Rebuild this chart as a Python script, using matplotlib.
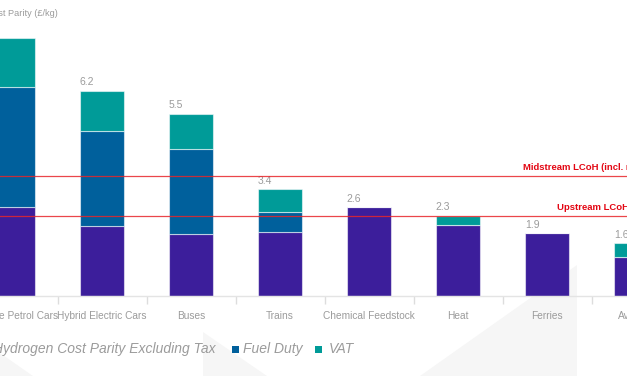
import numpy as np
import matplotlib
matplotlib.use("Agg")
import matplotlib.pyplot as plt
from matplotlib.patches import Polygon, Rectangle

plt.rcParams['font.family'] = ['Liberation Sans', 'DejaVu Sans']

# data (£/kg)
categories = ['Average Petrol Cars', 'Hybrid Electric Cars', 'Buses', 'Trains',
              'Chemical Feedstock', 'Heat', 'Ferries', 'Aviation']
excl_tax = [2.69, 2.11, 1.87, 1.93, 2.68, 2.14, 1.9, 1.18]
fuel_duty = [3.61, 2.87, 2.57, 0.61, 0, 0, 0, 0]
vat = [1.49, 1.22, 1.06, 0.69, 0, 0.28, 0, 0.42]
total_labels = ['7.8', '6.2', '5.5', '3.4', '2.6', '2.3', '1.9', '1.6']
midstream = 3.63
upstream = 2.42

purple = '#3c1e9b'
blue = '#00609c'
teal = '#009b98'
red = '#e30613'
grey = '#9b9b9b'

fig = plt.figure(figsize=(6.27, 3.76), dpi=100)
fig.patch.set_facecolor('white')

# faint background triangles
W, H = 627, 376
for pts in [[(0, 353), (0, 376), (33, 376)],
            [(203, 332), (203, 376), (267, 376)],
            [(577, 265), (577, 376), (420, 376)]]:
    fig.patches.append(Polygon([(x / W, 1 - y / H) for x, y in pts], closed=True,
                               transform=fig.transFigure, facecolor='#f6f6f6',
                               edgecolor='none', zorder=0))

# the chart is cropped on the right, so the axes run past the figure edge
AW = 720
ax = fig.add_axes([0, 80 / H, AW / W, 296 / H], zorder=1)
ax.set_facecolor('none')

x = np.arange(len(categories))
w = 0.5
edge = dict(edgecolor=(1, 1, 1, 0.55), linewidth=0.8)
b1 = ax.bar(x, excl_tax, w, color=purple, **edge, zorder=2)
bottom2 = np.array(excl_tax)
b2 = ax.bar(x, fuel_duty, w, bottom=bottom2, color=blue, **edge, zorder=2)
bottom3 = bottom2 + np.array(fuel_duty)
b3 = ax.bar(x, vat, w, bottom=bottom3, color=teal, **edge, zorder=2)
tops = bottom3 + np.array(vat)

for xi, t, lab in zip(x, tops, total_labels):
    ax.annotate(lab, (xi - w / 2, t), xytext=(0, 2.5), textcoords='offset points',
                ha='left', va='bottom', fontsize=7.5, color=grey)

# LCoH reference lines
ax.axhline(midstream, color='#e8262a', lw=0.9, alpha=0.85, zorder=3)
ax.axhline(upstream, color='#e8262a', lw=0.9, alpha=0.85, zorder=3)
ax.text(5.73, midstream + 0.12, 'Midstream LCoH (incl. refuelling)', color=red,
        fontsize=6.8, fontweight='bold', va='bottom', ha='left')
ax.text(6.11, upstream + 0.12, 'Upstream LCoH', color=red,
        fontsize=6.8, fontweight='bold', va='bottom', ha='left')

ax.set_xticks(x)
ax.set_xticklabels(categories, fontsize=7.3, color=grey)
ax.tick_params(axis='x', which='major', length=0, pad=11)
ax.set_xticks(x + 0.5, minor=True)
ax.tick_params(axis='x', which='minor', length=6, color='#dddddd', width=1)
ax.set_yticks([])
ax.set_xlim(-13 / 89, (AW - 13) / 89)
ax.set_ylim(0, 296 / 33.1)
for s in ['top', 'right', 'left']:
    ax.spines[s].set_visible(False)
ax.spines['bottom'].set_color('#e4e4e4')
ax.spines['bottom'].set_linewidth(1)

# axis title (top-left)
fig.text(58 / W, 1 - 13 / H, 'Hydrogen Cost Parity (£/kg)', ha='right', va='center',
         fontsize=6.6, color=grey)

# legend
ly = 1 - 349 / H
fig.text(216 / W, ly, 'Hydrogen Cost Parity Excluding Tax', ha='right', va='center',
         fontsize=10, style='italic', color=grey)
fig.patches.append(Rectangle((-60 / W, ly - 3.5 / H), 7 / W, 7 / H, transform=fig.transFigure,
                             facecolor=purple, edgecolor='none'))
for sx, tx, lab, c in [(232, 243, 'Fuel Duty', blue), (315, 329, 'VAT', teal)]:
    fig.patches.append(Rectangle((sx / W, ly - 3.5 / H), 7 / W, 7 / H,
                                 transform=fig.transFigure, facecolor=c, edgecolor='none'))
    fig.text(tx / W, ly, lab, ha='left', va='center', fontsize=10, style='italic', color=grey)

fig.savefig('out.png', dpi=100)
